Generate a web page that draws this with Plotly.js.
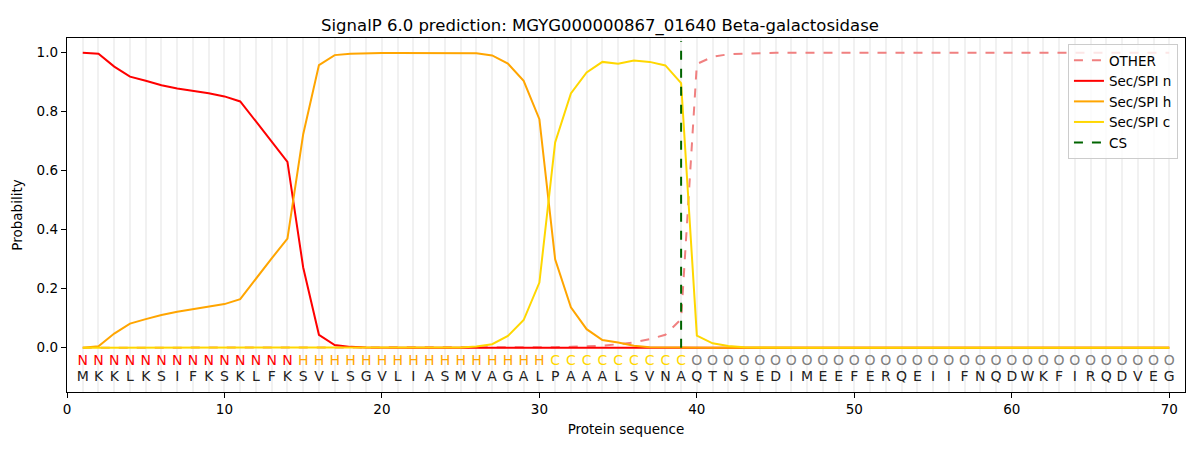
<!DOCTYPE html>
<html>
<head>
<meta charset="utf-8">
<script src="https://cdn.plot.ly/plotly-3.0.1.min.js"></script>
<style>html,body{margin:0;padding:0;background:#fff;}#chart{width:1200px;height:450px;}</style>
</head>
<body>
<div id="chart"></div>
<script>
const positions = Array.from({length: 70}, (_, i) => i + 1);
const residues = ["M","K","K","L","K","S","I","F","K","S","K","L","F","K","S","V","L","S","G","V","L","I","A","S","M","V","A","G","A","L","P","A","A","A","L","S","V","N","A","Q","T","N","S","E","D","I","M","E","E","F","E","R","Q","E","I","I","F","N","Q","D","W","K","F","I","R","Q","D","V","E","G"];
const regionLabels = ["N","N","N","N","N","N","N","N","N","N","N","N","N","N","H","H","H","H","H","H","H","H","H","H","H","H","H","H","H","H","C","C","C","C","C","C","C","C","C","O","O","O","O","O","O","O","O","O","O","O","O","O","O","O","O","O","O","O","O","O","O","O","O","O","O","O","O","O","O","O"];

const otherVals = [0,0,0,0,0,0,0,0,0,0,0,0,0,0,0,0,0,0,0,0,0,0,0,0,0,0,0,0,0.001,0.001,0.002,0.003,0.004,0.007,0.012,0.018,0.029,0.044,0.097,0.962,0.986,0.995,0.997,0.999,1,1,1,1,1,1,1,1,1,1,1,1,1,1,1,1,1,1,1,1,1,1,1,1,1,1];
const secN = [1.0,0.997,0.953,0.919,0.905,0.89,0.879,0.871,0.863,0.852,0.835,0.767,0.70,0.63,0.272,0.044,0.009,0.003,0.001,0,0,0,0,0,0,0,0,0,0,0,0,0,0,0,0,0,0,0,0,0,0,0,0,0,0,0,0,0,0,0,0,0,0,0,0,0,0,0,0,0,0,0,0,0,0,0,0,0,0,0];
const secH = [0,0.005,0.048,0.082,0.097,0.111,0.122,0.13,0.138,0.148,0.165,0.236,0.303,0.37,0.724,0.958,0.992,0.997,0.999,0.999,0.999,0.999,0.999,0.999,0.999,0.998,0.991,0.963,0.905,0.775,0.30,0.137,0.063,0.026,0.018,0.007,0.002,0.001,0,0,0,0,0,0,0,0,0,0,0,0,0,0,0,0,0,0,0,0,0,0,0,0,0,0,0,0,0,0,0,0];
const secC = [0,0,0,0,0,0,0,0,0,0,0,0,0,0,0,0,0,0,0,0,0,0,0,0,0.001,0.004,0.012,0.04,0.094,0.221,0.696,0.862,0.933,0.969,0.963,0.974,0.969,0.957,0.897,0.041,0.015,0.006,0.002,0.001,0,0,0,0,0,0,0,0,0,0,0,0,0,0,0,0,0,0,0,0,0,0,0,0,0,0];
const csPos = 39;

const regionColor = {N: "#ff0000", H: "#ffa500", C: "#ffd700", O: "#808080"};
const font = "DejaVu Sans, sans-serif";

const traces = [
  {x: positions, y: otherVals, mode: "lines", name: "OTHER", line: {color: "#f08080", width: 2, dash: "dash"}},
  {x: positions, y: secN, mode: "lines", name: "Sec/SPI n", line: {color: "#ff0000", width: 2}},
  {x: positions, y: secH, mode: "lines", name: "Sec/SPI h", line: {color: "#ffa500", width: 2}},
  {x: positions, y: secC, mode: "lines", name: "Sec/SPI c", line: {color: "#ffd700", width: 2}},
  {x: [csPos, csPos], y: [0, 1.04], mode: "lines", name: "CS", line: {color: "#006400", width: 2, dash: "dash"}},
  {x: positions, y: positions.map(() => -0.047), mode: "text", text: regionLabels, showlegend: false, hoverinfo: "skip",
   textfont: {family: font, size: 14, color: regionLabels.map(l => regionColor[l])}},
  {x: positions, y: positions.map(() => -0.102), mode: "text", text: residues, showlegend: false, hoverinfo: "skip",
   textfont: {family: font, size: 14, color: "#222222"}}
];

const layout = {
  width: 1200, height: 450,
  margin: {l: 67, r: 15, t: 38, b: 58},
  paper_bgcolor: "#ffffff", plot_bgcolor: "#ffffff",
  font: {family: font, size: 13.5, color: "#000"},
  title: {text: "SignalP 6.0 prediction: MGYG000000867_01640 Beta-galactosidase", font: {family: font, size: 16.5, color: "#000"}, x: 0.5, xanchor: "center", y: 0.945, yanchor: "middle"},
  xaxis: {
    range: [0, 71], tickmode: "array", tickvals: [0,10,20,30,40,50,60,70], ticktext: ["0","10","20","30","40","50","60","70"],
    ticks: "outside", ticklen: 5, tickcolor: "#000", showline: true, linecolor: "#000", linewidth: 1.2, mirror: true,
    showgrid: false, zeroline: false,
    minor: {tickmode: "linear", tick0: 0, dtick: 1, showgrid: true, gridcolor: "#f1f1f1", gridwidth: 2, ticks: ""},
    title: {text: "Protein sequence", font: {family: font, size: 13.5}, standoff: 8}
  },
  yaxis: {
    range: [-0.15, 1.05], tickmode: "array", tickvals: [0,0.2,0.4,0.6,0.8,1.0], ticktext: ["0.0","0.2","0.4","0.6","0.8","1.0"],
    ticks: "outside", ticklen: 5, tickcolor: "#000", showline: true, linecolor: "#000", linewidth: 1.2, mirror: true,
    showgrid: false, zeroline: false,
    title: {text: "Probability", font: {family: font, size: 13.5}, standoff: 10}
  },
  legend: {x: 0.9937, xanchor: "right", y: 0.983, yanchor: "top", bgcolor: "rgba(255,255,255,0.8)", bordercolor: "#cccccc", borderwidth: 1,
    font: {family: font, size: 13.5}, tracegroupgap: 0},
  showlegend: true
};

Plotly.newPlot("chart", traces, layout, {displayModeBar: false, staticPlot: true});
</script>
</body>
</html>
